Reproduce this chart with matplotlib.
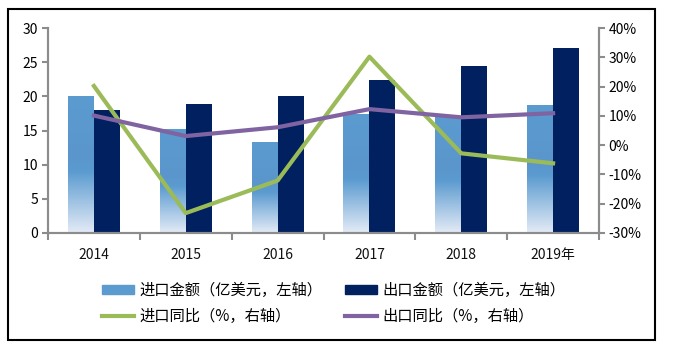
import numpy as np
import matplotlib.pyplot as plt
from matplotlib.patches import Rectangle
from matplotlib.colors import LinearSegmentedColormap
from matplotlib.lines import Line2D

plt.rcParams['font.family'] = ['Noto Sans CJK SC', 'DejaVu Sans']

years = ['2014', '2015', '2016', '2017', '2018', '2019年']
imports = [20.0, 15.1, 13.3, 17.4, 17.0, 18.7]
exports = [18.0, 18.9, 20.0, 22.4, 24.4, 27.1]
import_yoy = [20.2, -23.2, -12.1, 30.2, -2.8, -6.2]
export_yoy = [10.1, 3.1, 6.1, 12.3, 9.5, 10.9]

c_imp = '#5b9bd0'
c_exp = '#002060'
c_green = '#9bbb59'
c_purple = '#8064a2'
c_axis = '#8c8c8c'

fig = plt.figure(figsize=(6.84, 3.45), dpi=100)
ax = fig.add_axes([48/684, 1-233/345, (599-48)/684, (233-28)/345])
ax2 = ax.twinx()

# gradient: solid in upper part, fading to near white at the bottom
grad_cmap = LinearSegmentedColormap.from_list(
    'fade', [(0.0, '#e4ebf6'), (0.45, c_imp), (0.55, '#5a96cc'), (1.0, c_imp)])
grad = np.linspace(0, 1, 256).reshape(-1, 1)

x = np.arange(len(years))
w = 0.283
for i, v in enumerate(imports):
    x0 = x[i] - w
    ax.imshow(grad, cmap=grad_cmap, extent=(x0, x0 + w, 0, v), origin='lower',
              aspect='auto', zorder=2, interpolation='bicubic')
ax.bar(x + w/2, exports, width=w, color=c_exp, zorder=2)

ax.set_xlim(-0.5, 5.5)
ax.set_ylim(0, 30)
ax.set_yticks(range(0, 31, 5))
ax.set_xticks(x)
ax.set_xticklabels(years, fontsize=10, color='#111111')
ax.set_xticks(np.arange(-0.5, 6, 1), minor=True)
ax.tick_params(axis='x', which='major', length=0, pad=11)
ax.tick_params(axis='x', which='minor', length=5, width=1.5, color=c_axis, direction='out')
ax.tick_params(axis='y', length=4, width=1.5, color=c_axis, labelsize=10, pad=3)

ax2.plot(x, import_yoy, color=c_green, lw=3, zorder=3)
ax2.plot(x, export_yoy, color=c_purple, lw=3, zorder=3)
ax2.set_ylim(-30, 40)
ax2.set_yticks(range(-30, 41, 10))
ax2.set_yticklabels([f'{t}%' for t in range(-30, 41, 10)])
ax2.tick_params(axis='y', length=4, width=1.5, color=c_axis, labelsize=10, pad=3)

for a in (ax, ax2):
    a.spines['top'].set_visible(False)
    for s in ('left', 'right', 'bottom'):
        a.spines[s].set_color(c_axis)
        a.spines[s].set_linewidth(1.5)

handles = [Rectangle((0, 0), 1, 1, color=c_imp),
           Line2D([], [], color=c_green, lw=3),
           Rectangle((0, 0), 1, 1, color=c_exp),
           Line2D([], [], color=c_purple, lw=3)]
labels = ['进口金额（亿美元，左轴）', '进口同比（%，右轴）',
          '出口金额（亿美元，左轴）', '出口同比（%，右轴）']
fig.legend(handles, labels, ncol=2, loc='center left',
           bbox_to_anchor=(102/684, 1-303.5/345), borderaxespad=0, borderpad=0,
           frameon=False, fontsize=11, handlelength=2.1, handleheight=0.55,
           columnspacing=1.5, handletextpad=0.33, labelspacing=0.55)

fig.patches.append(Rectangle((8/684, 1-340/345), (655-8)/684, (340-9)/345,
                             transform=fig.transFigure, fill=False,
                             edgecolor='black', lw=1.5))

fig.savefig('out.png', dpi=100)
